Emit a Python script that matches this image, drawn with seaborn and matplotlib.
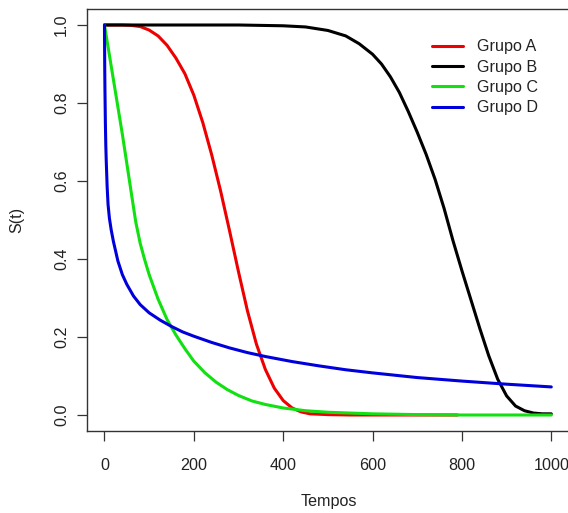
import matplotlib
matplotlib.use("Agg")
import matplotlib.pyplot as plt
import seaborn as sns
import pandas as pd

# ---- data ----
grupos = ["Grupo A", "Grupo B", "Grupo C", "Grupo D"]

t_a = [0, 40, 60, 80, 100, 120, 140, 160, 180, 200, 220, 240, 260, 280, 300, 320, 340, 360, 380, 400,
       420, 440, 460, 500, 550, 790]
s_a = [1.0, 1.0, 0.999, 0.996, 0.987, 0.972, 0.948, 0.915, 0.875, 0.82, 0.75, 0.667, 0.574, 0.472, 0.367,
       0.267, 0.182, 0.117, 0.069, 0.037, 0.018, 0.008, 0.003, 0.001, 0.0, 0.0]

t_b = [0, 300, 400, 450, 500, 540, 570, 600, 620, 640, 660, 680, 700, 720, 740, 760, 780, 800, 820, 840,
       860, 880, 900, 920, 940, 960, 980, 1000]
s_b = [1.0, 1.0, 0.998, 0.995, 0.986, 0.972, 0.952, 0.925, 0.90, 0.867, 0.827, 0.778, 0.725, 0.668, 0.604,
       0.53, 0.447, 0.37, 0.296, 0.222, 0.152, 0.092, 0.049, 0.023, 0.011, 0.005, 0.003, 0.003]

t_c = [0, 10, 20, 30, 40, 50, 60, 70, 80, 90, 100, 120, 140, 160, 180, 200, 225, 250, 275, 300, 330, 360,
       400, 450, 500, 600, 700, 800, 1000]
s_c = [1.0, 0.93, 0.86, 0.79, 0.72, 0.645, 0.57, 0.495, 0.44, 0.398, 0.36, 0.297, 0.245, 0.205, 0.17,
       0.138, 0.108, 0.084, 0.065, 0.05, 0.036, 0.027, 0.018, 0.011, 0.007, 0.003, 0.001, 0.0, 0.0]

t_d = [0, 0.5, 1, 2, 3, 4, 6, 8, 11, 15, 20, 25, 30, 40, 50, 65, 80, 100, 125, 150, 175, 200, 240, 280,
       320, 360, 420, 480, 540, 600, 700, 800, 900, 1000]
s_d = [1.0, 0.9, 0.84, 0.75, 0.69, 0.65, 0.585, 0.54, 0.505, 0.475, 0.445, 0.42, 0.395, 0.36, 0.335,
       0.305, 0.283, 0.262, 0.243, 0.227, 0.213, 0.202, 0.186, 0.172, 0.16, 0.15, 0.137, 0.126, 0.116,
       0.108, 0.096, 0.087, 0.079, 0.072]

cores = ["#EE0000", "#000000", "#11E011", "#0000DD"]

x_ticks = [0, 200, 400, 600, 800, 1000]
y_ticks = [0.0, 0.2, 0.4, 0.6, 0.8, 1.0]
y_tick_labels = ["0.0", "0.2", "0.4", "0.6", "0.8", "1.0"]

df = pd.concat([
    pd.DataFrame({"Tempos": t, "S": s, "grupo": g})
    for t, s, g in zip([t_a, t_b, t_c, t_d], [s_a, s_b, s_c, s_d], grupos)
], ignore_index=True)

sns.set_style("white")
plt.rcParams["font.family"] = ["Liberation Sans", "DejaVu Sans"]

W, H = 568, 513
fig = plt.figure(figsize=(W / 100, H / 100), dpi=100)
ax = fig.add_axes([86.6 / W, 1 - 430.6 / H, (570.5 - 86.6) / W, (430.6 - 9.4) / H])

sns.lineplot(data=df, x="Tempos", y="S", hue="grupo", hue_order=grupos,
             palette=dict(zip(grupos, cores)), estimator=None, sort=True,
             linewidth=2.2, ax=ax)

ax.set_xlim(-40, 1043)
ax.set_ylim(-0.04, 1.04)
ax.set_xticks(x_ticks)
ax.set_xticklabels([str(v) for v in x_ticks])
ax.set_yticks(y_ticks)
ax.set_yticklabels(y_tick_labels, rotation=90, va="center")

for sp in ax.spines.values():
    sp.set_visible(True)
    sp.set_color("#333333")
    sp.set_linewidth(1.0)

ax.tick_params(axis="both", direction="out", length=7.5, width=0.9, color="#333333",
               labelsize=11.6, labelcolor="#222222")
ax.tick_params(axis="x", pad=12, bottom=True)
ax.tick_params(axis="y", pad=5, left=True)

ax.set_xlabel("Tempos", fontsize=11.6, color="#222222")
ax.set_ylabel("S(t)", fontsize=11.6, color="#222222")
ax.xaxis.set_label_coords(0.5, -0.15)
ax.yaxis.set_label_coords(-0.128, 0.5)

handles, labels = ax.get_legend_handles_labels()
leg = ax.legend(handles, labels, loc="upper left", frameon=False,
                bbox_to_anchor=(431.5 / W, 1 - 39.5 / H), bbox_transform=fig.transFigure,
                fontsize=11.6, handlelength=1.95, handletextpad=0.85,
                labelspacing=0.33, borderpad=0, borderaxespad=0)
for h in leg.get_lines():
    h.set_linewidth(2.2)
for txt in leg.get_texts():
    txt.set_color("#222222")

fig.savefig("out.png", dpi=100)
